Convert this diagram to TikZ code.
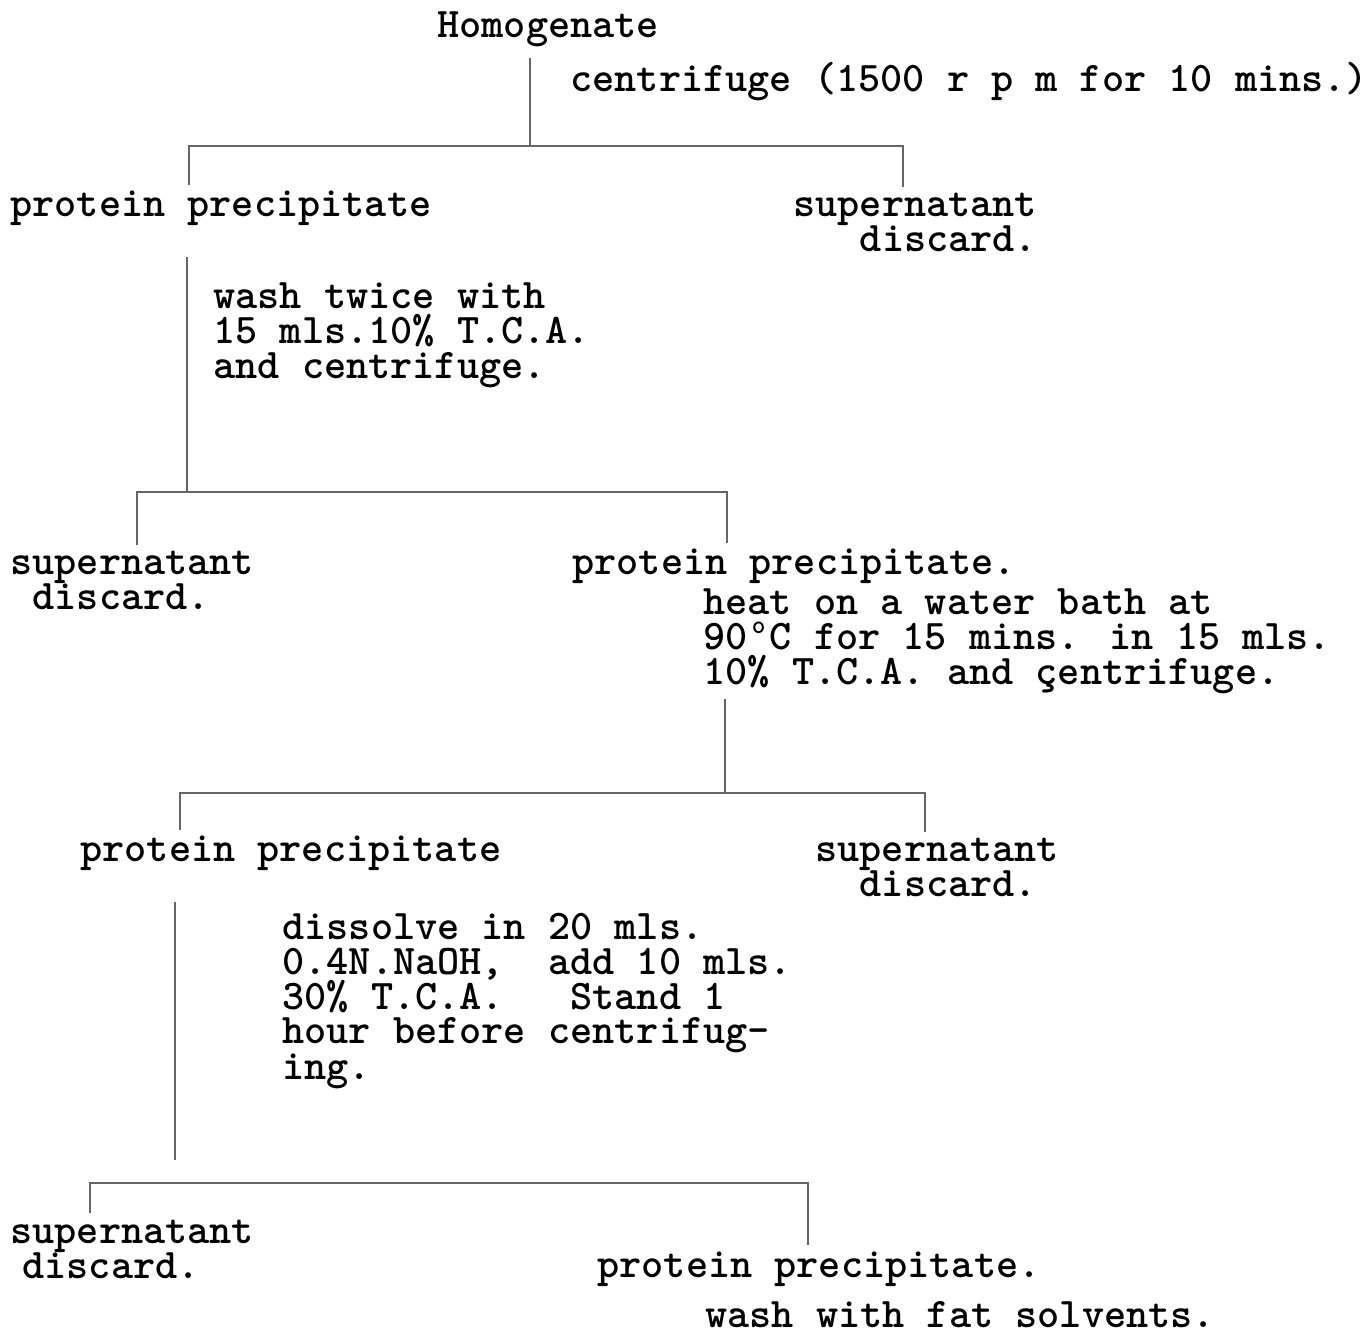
\documentclass[tikz,border=0pt]{standalone}
\usetikzlibrary{positioning}
\newcommand{\dego}{\makebox[0.525em]{\raisebox{0.38em}{\fontsize{13}{13}\selectfont o}}}
\tikzset{x=0.5pt, y=-0.5pt, % One unit is one pixel of the typed sheet, y runs downwards.
typed/.style={ % Sets the properties for each typed text, placed by the baseline of its last line
font=\ttfamily\fontseries{b}\fontsize{21.1}{17.5}\selectfont,
anchor=base west,
inner sep=0pt,
align=left},
branch/.style={ % Lines that split a step into its two parts
draw=black!60,
line width=1.1pt}}

\begin{document}
\begin{tikzpicture}
    \useasboundingbox (0,0) rectangle (1372,1336);

    \node[typed] (hom) at (437,38) {Homogenate};
    \node[typed] (cent) at (570,92) {centrifuge (1500 r p m for 10 mins.)};
    \node[typed] (pp1) at (10,217) {protein precipitate};
    \node[typed] (sup1) at (793,252) {supernatant\\\phantom{xxx}discard.};
    \node[typed] (wash) at (213,379) {wash twice with\\15 mls.10\% T.C.A.\\and centrifuge.};

    \node[typed] (sup2) at (10,610) {supernatant\\\phantom{x}discard.};
    \node[typed] (pp2) at (572,575) {protein precipitate.};
    \node[typed] (heat) at (703,685) {heat on a water bath at\\90\dego C for 15 mins. in 15 mls.\\10\% T.C.A. and çentrifuge.};

    \node[typed] (pp3) at (80,862) {protein precipitate};
    \node[typed] (sup3) at (815,897) {supernatant\\\phantom{xx}discard.};
    \node[typed] (diss) at (282,1079) {dissolve in 20 mls.\\0.4N.NaOH,\ \ add 10 mls.\\30\% T.C.A.\ \ \ Stand 1\\hour before centrifug-\\ing.};

    \node[typed] (sup4) at (10,1278) {supernatant\\\hspace*{6pt}discard.};
    \node[typed] (pp4) at (597,1277) {protein precipitate.};
    \node[typed] (fat) at (705,1327) {wash with fat solvents.};

    \coordinate (b1) at (530,146);
    \coordinate (b1l) at (189,146);
    \coordinate (b1r) at (903,146);
    \coordinate (b2) at (187,492);
    \coordinate (b2l) at (137,492);
    \coordinate (b2r) at (727,492);
    \coordinate (b3) at (725,793);
    \coordinate (b3l) at (180,793);
    \coordinate (b3r) at (925,793);
    \coordinate (s4) at (175,1160);
    \coordinate (b4l) at (90,1183);
    \coordinate (b4r) at (808,1183);

    \draw[branch, shorten <=5pt] (hom.south -| b1) -- (b1);
    \draw[branch, shorten <=3pt, shorten >=3pt] (pp1.north -| b1l) -- (b1l) -- (b1r) -- (sup1.north -| b1r);
    \draw[branch, shorten <=15pt] (pp1.south -| b2) -- (b2);
    \draw[branch, shorten <=3pt, shorten >=3pt] (sup2.north -| b2l) -- (b2l) -- (b2r) -- (pp2.north -| b2r);
    \draw[branch, shorten <=2pt] (heat.south -| b3) -- (b3);
    \draw[branch, shorten <=3pt, shorten >=3pt] (pp3.north -| b3l) -- (b3l) -- (b3r) -- (sup3.north -| b3r);
    \draw[branch, shorten <=15pt] (pp3.south -| s4) -- (s4);
    \draw[branch, shorten <=3pt, shorten >=3pt] (sup4.north -| b4l) -- (b4l) -- (b4r) -- (pp4.north -| b4r);

\end{tikzpicture}
\end{document}
